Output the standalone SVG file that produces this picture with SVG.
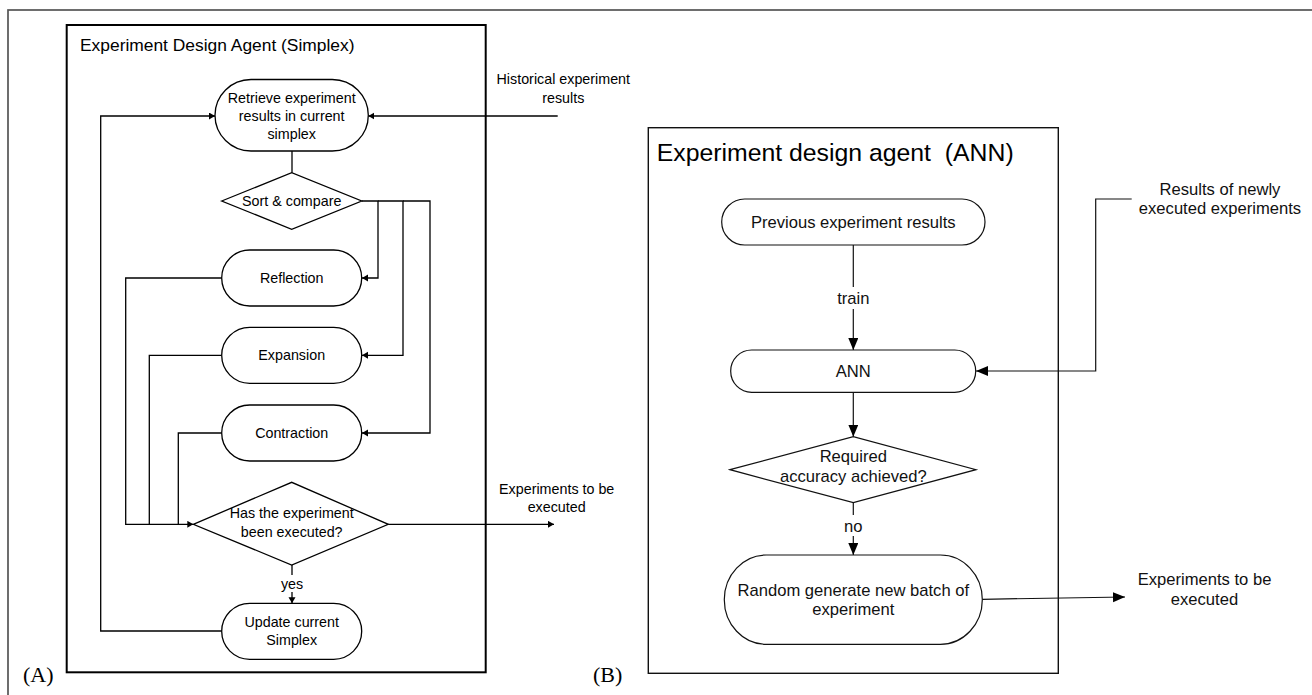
<svg xmlns="http://www.w3.org/2000/svg" width="1312" height="695" viewBox="0 0 1312 695">
<style>
.a{font-family:"Liberation Sans",Arial,sans-serif;font-size:14.3px;fill:#000;text-anchor:middle}
.b{font-family:"Liberation Sans",Arial,sans-serif;font-size:16.6px;fill:#111;text-anchor:middle}
.shape{fill:#fff;stroke:#000;stroke-width:1.3}
.shapeB{fill:#fff;stroke:#111;stroke-width:1.2}
.ln{fill:none;stroke:#000;stroke-width:1.3}
.lnB{fill:none;stroke:#111;stroke-width:1.2}
.lbl{font-family:"Liberation Serif","Times New Roman",serif;font-size:22px;fill:#000}
</style>
<defs>
<marker id="arA" markerUnits="userSpaceOnUse" markerWidth="8" markerHeight="8" refX="6" refY="3.5" orient="auto">
<path d="M0,0 L6,3.5 L0,7 z" fill="#000"/>
</marker>
<marker id="arB" markerUnits="userSpaceOnUse" markerWidth="14" markerHeight="12" refX="12" refY="5" orient="auto">
<path d="M0,0 L12,5 L0,10 z" fill="#000"/>
</marker>
</defs>
<rect width="1312" height="695" fill="#fff"/>
<rect x="8" y="10" width="1320" height="700" fill="none" stroke="#555" stroke-width="1.7"/>

<g id="panelA">
<rect x="66.7" y="25" width="419" height="647.3" fill="none" stroke="#000" stroke-width="2"/>
<text x="80" y="51" font-family="Liberation Sans,Arial,sans-serif" font-size="17.4">Experiment Design Agent (Simplex)</text>
</g>
<g id="panelB">
<rect x="648.3" y="127.7" width="410" height="545.6" fill="none" stroke="#111" stroke-width="1.4"/>
<text x="656.7" y="161" font-family="Liberation Sans,Arial,sans-serif" font-size="24.8" xml:space="preserve">Experiment design agent  (ANN)</text>
</g>

<g id="connectors">
<path class="ln" d="M292,151 V172.7"/>
<path class="ln" d="M361.7,201 H378 V278 H362" marker-end="url(#arA)"/>
<path class="ln" d="M378,201 H403 V355.3 H362" marker-end="url(#arA)"/>
<path class="ln" d="M403,201 H430 V433 H362" marker-end="url(#arA)"/>
<path class="ln" d="M221.7,278 H125.7 V524.3 H193.3" marker-end="url(#arA)"/>
<path class="ln" d="M221.7,355.3 H149.3 V524.3"/>
<path class="ln" d="M221.7,433 H178.3 V524.3"/>
<path class="ln" d="M292,565 V603.3" marker-end="url(#arA)"/>
<rect x="280" y="575" width="24" height="17" fill="#fff"/>
<text class="a" x="292" y="589">yes</text>
<path class="ln" d="M221.7,631 H100.7 V116 H215" marker-end="url(#arA)"/>
<path class="ln" d="M557.7,116 H368.3" marker-end="url(#arA)"/>
<path class="ln" d="M388.3,524.3 H554" marker-end="url(#arA)"/>

<path class="lnB" d="M853.3,245 V350" marker-end="url(#arB)"/>
<rect x="834" y="287" width="39" height="22" fill="#fff"/>
<text class="b" x="853.3" y="304">train</text>
<path class="lnB" d="M853.3,392.3 V436.7" marker-end="url(#arB)"/>
<path class="lnB" d="M853.3,502.7 V555" marker-end="url(#arB)"/>
<rect x="840" y="515" width="27" height="21" fill="#fff"/>
<text class="b" x="853.3" y="531.5">no</text>
<path class="lnB" d="M1131.7,199 H1095.7 V371 H976" marker-end="url(#arB)"/>
<path class="lnB" d="M982.3,599.3 L1125,597" marker-end="url(#arB)"/>
</g>

<g id="retrieve">
<rect class="shape" x="215" y="79.5" width="153.3" height="71.5" rx="36" ry="35.75"/>
<text class="a" x="291.7" y="102.7">Retrieve experiment</text>
<text class="a" x="291.7" y="120.7">results in current</text>
<text class="a" x="291.7" y="139.3">simplex</text>
</g>
<g id="sort">
<polygon class="shape" points="221.7,201 291.7,172.7 361.7,201 291.7,229.3"/>
<text class="a" x="291.7" y="206">Sort &amp; compare</text>
</g>
<g id="reflection">
<rect class="shape" x="221.7" y="250" width="140" height="56" rx="28"/>
<text class="a" x="291.7" y="283">Reflection</text>
</g>
<g id="expansion">
<rect class="shape" x="221.7" y="327.3" width="140" height="56" rx="28"/>
<text class="a" x="291.7" y="360.3">Expansion</text>
</g>
<g id="contraction">
<rect class="shape" x="221.7" y="405" width="140" height="56" rx="28"/>
<text class="a" x="291.7" y="438">Contraction</text>
</g>
<g id="executed">
<polygon class="shape" points="193.3,524.3 291.7,482.3 388.3,524.3 291.7,565"/>
<text class="a" x="291.7" y="518.3">Has the experiment</text>
<text class="a" x="291.7" y="536.7">been executed?</text>
</g>
<g id="update">
<rect class="shape" x="221.7" y="603.3" width="140" height="56" rx="28"/>
<text class="a" x="291.7" y="627.3">Update current</text>
<text class="a" x="291.7" y="645.3">Simplex</text>
</g>
<g id="historical">
<text class="a" x="563.3" y="84.3">Historical experiment</text>
<text class="a" x="563.3" y="103.3">results</text>
</g>
<g id="outA">
<text class="a" x="556.7" y="494.3">Experiments to be</text>
<text class="a" x="556.7" y="512.3">executed</text>
</g>

<g id="previous">
<rect class="shapeB" x="721.7" y="199" width="263.3" height="46" rx="23"/>
<text class="b" x="853.3" y="227.5">Previous experiment results</text>
</g>
<g id="ann">
<rect class="shapeB" x="730.7" y="350" width="245" height="42.3" rx="21"/>
<text class="b" x="853.3" y="376.8">ANN</text>
</g>
<g id="required">
<polygon class="shapeB" points="730,469.7 853.3,436.7 976,469.7 853.3,502.7"/>
<text class="b" x="853.3" y="461.5">Required</text>
<text class="b" x="853.3" y="481.5">accuracy achieved?</text>
</g>
<g id="random">
<rect class="shapeB" x="724.3" y="555" width="258" height="89.3" rx="42" ry="44.6"/>
<text class="b" x="853.3" y="595.8">Random generate new batch of</text>
<text class="b" x="853.3" y="615.1">experiment</text>
</g>
<g id="newly">
<text class="b" x="1220" y="195.1">Results of newly</text>
<text class="b" x="1220" y="214.1">executed experiments</text>
</g>
<g id="outB">
<text class="b" x="1204.5" y="585.1">Experiments to be</text>
<text class="b" x="1204.5" y="604.8">executed</text>
</g>
<text class="lbl" x="23" y="682">(A)</text>
<text class="lbl" x="593" y="682">(B)</text>
</svg>
